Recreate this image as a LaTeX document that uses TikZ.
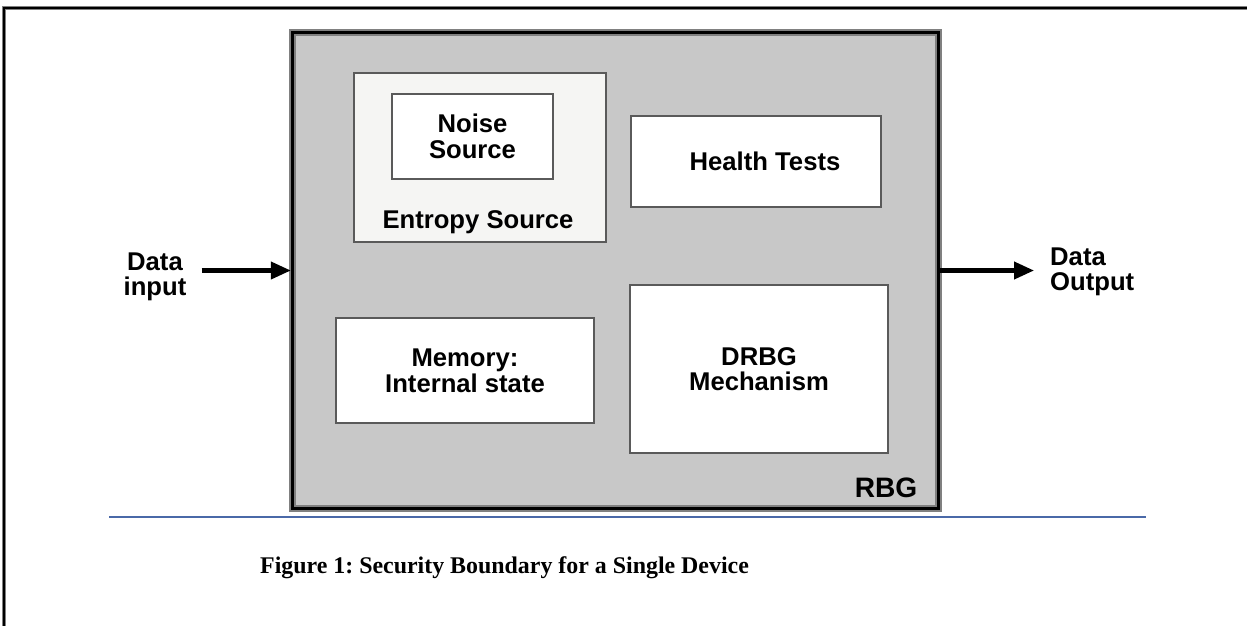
\documentclass[tikz,border=0pt]{standalone}
\usepackage{fontspec}
\setmainfont{Liberation Serif}
\newfontfamily\arialfont{Liberation Sans}
\usetikzlibrary{arrows.meta}
\definecolor{rbggray}{HTML}{C8C8C8}
\definecolor{entropyfill}{HTML}{F5F5F3}
\definecolor{boxline}{HTML}{5A5A5A}
\definecolor{ruleblue}{HTML}{4A69A8}
\tikzset{flow/.style={line width=2.3pt,-{Triangle[length=0.4cm,width=0.34cm]}}}
\frenchspacing

\begin{document}
\begin{tikzpicture}[x=0.02cm,y=-0.02cm,font=\arialfont\bfseries\fontsize{14.6}{14.6}\selectfont]
		\useasboundingbox (0,0) rectangle (1247,626);
		% page frame
		\draw[gray,line width=2.6pt] (1247,8) -- (4,8) -- (4,626);
		\draw[black,line width=1.4pt] (1247,8) -- (4,8) -- (4,626);
		
		\node (rbg) at (615.5,270.5) [draw=black,line width=2pt,inner sep=0pt,
			minimum width=12.92cm,minimum height=9.52cm,
			preaction={fill=rbggray,draw=gray,line width=3.6pt}]{};
		
		\begin{scope}[every node/.style={draw=boxline,line width=0.7pt,fill=white,
			inner sep=0pt,align=center}]
		\node (entropy) at (480,157.5) [fill=entropyfill,minimum width=5.04cm,minimum height=3.38cm]{};
		\node (noise) at (472.5,136.5) [minimum width=3.22cm,minimum height=1.70cm]{Noise\\Source};
		\node (health) at (756,161.5) [minimum width=5cm,minimum height=1.82cm]{\hspace*{0.36cm}Health Tests};
		\node (memory) at (465,370.5) [minimum width=5.16cm,minimum height=2.10cm]{Memory:\\Internal state};
		\node (drbg) at (759,369) [minimum width=5.16cm,minimum height=3.36cm]{DRBG\\Mechanism};
		\end{scope}
		
		\node (entropylabel) at (478,222) {Entropy Source};
		\node (rbglabel) at (886,488) [font=\arialfont\bfseries\fontsize{16}{16}\selectfont]{RBG};
		\node (datain) at (155,277) [align=center]{Data\\input};
		\node (dataout) at (1044,272) [anchor=west,align=left]{Data\\Output};
		
		\path[flow,shorten <=0.18cm] (datain.east |- rbg.west) edge (rbg.west);
		\path[flow,shorten >=0.2cm] (rbg.east) edge (rbg.east -| dataout.west);
		
		\draw[ruleblue,line width=1pt] (109,517) -- (1146,517);
		\node (caption) at (254,568) [anchor=west,font=\rmfamily\bfseries\fontsize{13.6}{16}\selectfont]
			{Figure 1: Security Boundary for a Single Device};
\end{tikzpicture}
\end{document}
